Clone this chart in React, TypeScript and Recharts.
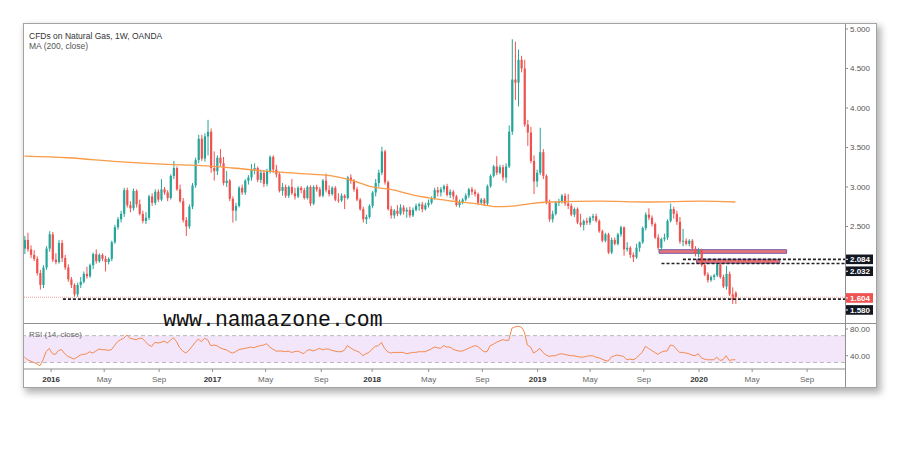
import React from 'react';
import { ComposedChart, Bar, Line, XAxis, YAxis, ReferenceLine, ReferenceArea } from 'recharts';

// weekly candles [open, high, low, close], first bar = week of 2 Nov 2015
const ohlc2015 = [
  [2.22, 2.38, 2.15, 2.33], [2.33, 2.42, 2.18, 2.21], [2.21, 2.26, 2.10, 2.14], [2.14, 2.20, 2.06, 2.09],
  [2.09, 2.12, 1.88, 1.91], [1.91, 1.95, 1.70, 1.76], [1.76, 2.01, 1.72, 1.98], [1.98, 2.25, 1.95, 2.22],
  [2.22, 2.44, 2.18, 2.40],
];

const ohlc2016 = [
  [2.40, 2.43, 2.05, 2.08], [2.08, 2.16, 2.02, 2.05], [2.05, 2.33, 2.03, 2.29], [2.29, 2.33, 2.05, 2.10],
  [2.10, 2.14, 1.95, 1.98], [1.98, 2.02, 1.80, 1.83], [1.83, 1.86, 1.72, 1.76], [1.76, 1.78, 1.61, 1.64],
  [1.64, 1.79, 1.61, 1.76], [1.76, 1.86, 1.72, 1.80], [1.80, 1.93, 1.78, 1.90], [1.90, 1.99, 1.84, 1.87],
  [1.87, 2.03, 1.85, 2.01], [2.01, 2.17, 1.96, 2.15], [2.15, 2.21, 2.03, 2.06], [2.06, 2.16, 2.04, 2.14],
  [2.14, 2.16, 2.06, 2.09], [2.09, 2.13, 1.93, 2.05], [2.05, 2.11, 2.02, 2.09], [2.09, 2.32, 2.06, 2.30],
  [2.30, 2.52, 2.28, 2.49], [2.49, 2.62, 2.46, 2.59], [2.59, 2.70, 2.55, 2.66], [2.66, 2.99, 2.62, 2.96],
  [2.96, 2.99, 2.74, 2.77], [2.77, 2.82, 2.68, 2.73], [2.73, 2.98, 2.70, 2.95], [2.95, 2.97, 2.74, 2.78],
  [2.78, 2.84, 2.64, 2.66], [2.66, 2.70, 2.54, 2.57], [2.57, 2.68, 2.53, 2.61], [2.61, 2.90, 2.58, 2.88],
  [2.88, 2.92, 2.76, 2.80], [2.80, 2.97, 2.77, 2.94], [2.94, 2.97, 2.81, 2.84], [2.84, 3.10, 2.82, 2.97],
  [2.97, 3.00, 2.90, 2.93], [2.93, 2.96, 2.82, 2.86], [2.86, 3.16, 2.84, 3.14], [3.14, 3.33, 3.10, 3.24],
  [3.24, 3.26, 2.95, 2.97], [2.97, 3.03, 2.80, 2.82], [2.82, 2.86, 2.55, 2.58], [2.58, 2.62, 2.38, 2.50],
  [2.50, 2.78, 2.47, 2.75], [2.75, 3.05, 2.72, 3.02], [3.02, 3.37, 2.99, 3.34], [3.34, 3.66, 3.30, 3.61],
  [3.61, 3.66, 3.33, 3.36], [3.36, 3.68, 3.32, 3.64], [3.64, 3.85, 3.40, 3.70], [3.70, 3.74, 3.18, 3.24],
];

const ohlc2017 = [
  [3.24, 3.45, 3.08, 3.20], [3.20, 3.40, 3.15, 3.37], [3.37, 3.48, 3.26, 3.30], [3.30, 3.38, 3.02, 3.05],
  [3.05, 3.20, 3.00, 3.08], [3.08, 3.10, 2.82, 2.85], [2.85, 2.88, 2.55, 2.70], [2.70, 2.80, 2.57, 2.76],
  [2.76, 3.01, 2.74, 2.99], [2.99, 3.03, 2.90, 2.93], [2.93, 3.10, 2.90, 3.08], [3.08, 3.15, 3.03, 3.12],
  [3.12, 3.29, 3.08, 3.22], [3.22, 3.30, 3.16, 3.24], [3.24, 3.26, 3.06, 3.09], [3.09, 3.22, 3.05, 3.18],
  [3.18, 3.21, 3.00, 3.04], [3.04, 3.23, 3.01, 3.20], [3.20, 3.40, 3.17, 3.38], [3.38, 3.40, 3.18, 3.22],
  [3.22, 3.28, 3.12, 3.16], [3.16, 3.19, 2.93, 2.95], [2.95, 3.05, 2.89, 3.00], [3.00, 3.03, 2.86, 2.89],
  [2.89, 3.02, 2.86, 3.00], [3.00, 3.10, 2.90, 2.92], [2.92, 2.99, 2.84, 2.88], [2.88, 3.01, 2.86, 2.99],
  [2.99, 3.01, 2.92, 2.96], [2.96, 2.99, 2.84, 2.86], [2.86, 3.02, 2.84, 3.00], [3.00, 3.02, 2.76, 2.79],
  [2.79, 3.02, 2.77, 3.00], [3.00, 3.03, 2.94, 2.97], [2.97, 3.00, 2.87, 2.89], [2.89, 3.10, 2.87, 3.08],
  [3.08, 3.17, 2.93, 2.96], [2.96, 3.02, 2.88, 2.91], [2.91, 3.01, 2.89, 2.99], [2.99, 3.01, 2.82, 2.84],
  [2.84, 2.92, 2.80, 2.83], [2.83, 2.92, 2.81, 2.89], [2.89, 2.91, 2.72, 2.86], [2.86, 3.14, 2.84, 3.12],
  [3.12, 3.16, 3.04, 3.08], [3.08, 3.10, 2.94, 2.97], [2.97, 3.00, 2.82, 2.84], [2.84, 2.86, 2.70, 2.72],
  [2.72, 2.75, 2.55, 2.59], [2.59, 2.65, 2.53, 2.62], [2.62, 2.78, 2.60, 2.76], [2.76, 2.95, 2.73, 2.93],
];

const ohlc2018 = [
  [2.93, 3.10, 2.88, 3.05], [3.05, 3.22, 3.00, 3.18], [3.18, 3.51, 3.15, 3.45], [3.45, 3.47, 3.03, 3.06],
  [3.06, 3.08, 2.70, 2.72], [2.72, 2.76, 2.60, 2.64], [2.64, 2.72, 2.60, 2.70], [2.70, 2.77, 2.63, 2.66],
  [2.66, 2.78, 2.64, 2.74], [2.74, 2.77, 2.65, 2.69], [2.69, 2.74, 2.61, 2.71], [2.71, 2.75, 2.61, 2.64],
  [2.64, 2.74, 2.62, 2.71], [2.71, 2.79, 2.69, 2.76], [2.76, 2.80, 2.70, 2.78], [2.78, 2.81, 2.68, 2.72],
  [2.72, 2.80, 2.70, 2.77], [2.77, 2.84, 2.74, 2.80], [2.80, 2.88, 2.78, 2.86], [2.86, 2.99, 2.84, 2.96],
  [2.96, 3.00, 2.88, 2.93], [2.93, 3.00, 2.88, 2.97], [2.97, 3.03, 2.93, 3.01], [3.01, 3.04, 2.88, 2.90],
  [2.90, 2.97, 2.86, 2.94], [2.94, 2.96, 2.84, 2.88], [2.88, 2.90, 2.75, 2.77], [2.77, 2.84, 2.74, 2.81],
  [2.81, 2.86, 2.78, 2.84], [2.84, 2.92, 2.82, 2.89], [2.89, 2.99, 2.86, 2.97], [2.97, 3.00, 2.90, 2.94],
  [2.94, 2.97, 2.88, 2.91], [2.91, 2.93, 2.77, 2.80], [2.80, 2.86, 2.77, 2.84], [2.84, 2.86, 2.76, 2.79],
  [2.79, 3.03, 2.77, 3.01], [3.01, 3.16, 2.99, 3.14], [3.14, 3.28, 3.12, 3.26], [3.26, 3.39, 3.15, 3.18],
  [3.18, 3.28, 3.16, 3.25], [3.25, 3.28, 3.08, 3.12], [3.12, 3.30, 3.05, 3.26], [3.26, 3.78, 3.24, 3.70],
  [3.70, 4.87, 3.66, 4.36], [4.36, 4.84, 4.10, 4.32], [4.32, 4.74, 4.02, 4.61], [4.61, 4.66, 4.45, 4.50],
  [4.50, 4.61, 3.76, 3.79], [3.79, 3.85, 3.52, 3.69], [3.69, 3.76, 3.30, 3.33], [3.33, 3.40, 2.91, 3.07],
];

const ohlc2019 = [
  [3.07, 3.22, 3.00, 3.18], [3.18, 3.75, 3.15, 3.44], [3.44, 3.48, 3.10, 3.14], [3.14, 3.16, 2.78, 2.80],
  [2.80, 2.84, 2.56, 2.59], [2.59, 2.70, 2.55, 2.66], [2.66, 2.82, 2.64, 2.80], [2.80, 2.85, 2.76, 2.82],
  [2.82, 2.91, 2.79, 2.89], [2.89, 2.92, 2.76, 2.79], [2.79, 2.91, 2.72, 2.76], [2.76, 2.79, 2.63, 2.65],
  [2.65, 2.74, 2.62, 2.72], [2.72, 2.74, 2.53, 2.55], [2.55, 2.66, 2.49, 2.52], [2.52, 2.59, 2.45, 2.57],
  [2.57, 2.61, 2.52, 2.55], [2.55, 2.63, 2.52, 2.61], [2.61, 2.66, 2.57, 2.63], [2.63, 2.66, 2.55, 2.57],
  [2.57, 2.59, 2.42, 2.44], [2.44, 2.46, 2.30, 2.32], [2.32, 2.42, 2.30, 2.40], [2.40, 2.42, 2.15, 2.17],
  [2.17, 2.36, 2.15, 2.33], [2.33, 2.36, 2.26, 2.28], [2.28, 2.42, 2.26, 2.40], [2.40, 2.51, 2.37, 2.49],
  [2.49, 2.50, 2.13, 2.21], [2.21, 2.30, 2.18, 2.23], [2.23, 2.25, 2.10, 2.14], [2.14, 2.17, 2.05, 2.11],
  [2.11, 2.28, 2.09, 2.23], [2.23, 2.31, 2.18, 2.30], [2.30, 2.50, 2.28, 2.48], [2.48, 2.68, 2.45, 2.65],
  [2.65, 2.73, 2.58, 2.61], [2.61, 2.64, 2.50, 2.53], [2.53, 2.55, 2.34, 2.36], [2.36, 2.40, 2.20, 2.23],
  [2.23, 2.36, 2.19, 2.34], [2.34, 2.41, 2.31, 2.36], [2.36, 2.59, 2.33, 2.57], [2.57, 2.79, 2.55, 2.72],
  [2.72, 2.75, 2.60, 2.66], [2.66, 2.70, 2.52, 2.56], [2.56, 2.62, 2.28, 2.31], [2.31, 2.47, 2.25, 2.32],
  [2.32, 2.35, 2.26, 2.28], [2.28, 2.34, 2.25, 2.32], [2.32, 2.34, 2.20, 2.22], [2.22, 2.25, 2.12, 2.15],
];

const ohlc2020 = [
  [2.15, 2.23, 2.11, 2.20], [2.20, 2.22, 1.99, 2.01], [2.01, 2.03, 1.87, 1.89], [1.89, 1.92, 1.79, 1.82],
  [1.82, 1.88, 1.80, 1.86], [1.86, 1.90, 1.82, 1.88], [1.88, 2.04, 1.86, 2.02], [2.02, 2.04, 1.84, 1.86],
  [1.86, 1.89, 1.72, 1.74], [1.74, 2.00, 1.70, 1.90], [1.90, 1.93, 1.62, 1.64], [1.64, 1.73, 1.52, 1.57],
  [1.66, 1.68, 1.52, 1.604],
];

// MA(200, close), read at a few weeks along the line
const maWeeks = [0, 14, 30, 46, 57, 67, 78, 89, 99, 105, 112, 118, 125, 136, 147, 152, 158, 163, 170, 185, 201, 218, 229];
const maValues = [3.39, 3.37, 3.32, 3.285, 3.27, 3.24, 3.2, 3.17, 3.14, 3.09, 3.0, 2.97, 2.9, 2.83, 2.78, 2.75, 2.76, 2.79, 2.81, 2.82, 2.81, 2.82, 2.81];

// RSI(14) per week
const rsi2015 = [38, 34, 32, 30, 28, 25, 34, 46, 51];
const rsi2016 = [43, 42, 48, 49, 43, 39, 37, 35, 38, 41, 42, 43, 46, 44, 47, 50, 49, 49, 48, 49, 55, 61, 64, 66, 71, 66,
  65, 64, 66, 66, 61, 56, 54, 60, 59, 60, 62, 59, 63, 67, 61, 52, 47, 44, 48, 54, 60, 65, 61, 66, 64, 55];
const rsi2017 = [56, 55, 52, 50, 49, 46, 44, 46, 49, 50, 51, 52, 53, 52, 54, 55, 56, 58, 53, 50, 47, 47, 47, 46, 47, 45,
  46, 47, 45, 43, 48, 49, 47, 49, 51, 49, 50, 50, 48, 47, 46, 46, 48, 55, 52, 49, 47, 45, 40, 43, 45, 50];
const rsi2018 = [54, 55, 60, 51, 46, 44, 45, 45, 45, 45, 43, 44, 45, 45, 46, 46, 46, 48, 50, 53, 52, 51, 55, 53, 53, 50,
  48, 47, 47, 49, 51, 53, 55, 54, 50, 46, 46, 55, 57, 60, 62, 64, 63, 63, 81, 83, 84, 83, 76, 56, 53, 44];
const rsi2019 = [47, 51, 45, 41, 39, 40, 40, 42, 43, 42, 41, 40, 40, 39, 38, 38, 39, 40, 40, 38, 37, 35, 33, 32, 38, 40,
  41, 40, 39, 34, 35, 34, 36, 41, 45, 54, 51, 48, 45, 42, 45, 47, 47, 56, 55, 50, 45, 45, 44, 43, 41, 40];
const rsi2020 = [43, 37, 35, 34, 34, 34, 38, 33, 34, 40, 33, 34, 34];

const priceTicks = [2.5, 3, 3.5, 4, 4.5, 5];
const rsiTicks = [40, 80];
const tickWeeks = [8.6, 25.7, 43.4, 60.6, 77.7, 95.6, 112, 130.2, 147.5, 165.3, 182.2, 199.5, 217.3, 234.4, 252.1];
const tickLabels = ['2016', 'May', 'Sep', '2017', 'May', 'Sep', '2018', 'May', 'Sep', '2019', 'May', 'Sep', '2020', 'May', 'Sep'];

const lastPrice = 1.604;
const levelPrices = [2.084, 2.032, 1.58];
const levelStartWeeks = [212.1, 205.2, 12.4];
// supply zones: [fromWeek, toWeek, low, high]
const zones = [
  [204.4, 245.5, 2.16, 2.206],
  [216.5, 243.3, 2.034, 2.085],
];

const UP = '#26a69a';
const DOWN = '#ef5350';
const X_MIN = -0.13;
const X_MAX = 264.3;

const candles = [...ohlc2015, ...ohlc2016, ...ohlc2017, ...ohlc2018, ...ohlc2019, ...ohlc2020].map(
  ([o, h, l, c], i) => ({ i, o, h, l, c, range: [l, h] })
);
const maData = maWeeks.map((w, k) => ({ i: w, ma: maValues[k] }));
const rsiData = [...rsi2015, ...rsi2016, ...rsi2017, ...rsi2018, ...rsi2019, ...rsi2020].map((v, i) => ({ i, rsi: v }));

const Candle = (props: any) => {
  const { x, y, width, height, payload } = props;
  if (!payload || x == null || y == null) return null;
  const { o, h, l, c } = payload;
  const top = Math.min(y, y + height);
  const span = Math.abs(height);
  const perUnit = h - l > 0 ? span / (h - l) : 0;
  const cx = x + width / 2;
  const bodyTop = top + (h - Math.max(o, c)) * perUnit;
  const bodyH = Math.max(1, Math.abs(o - c) * perUnit);
  const color = c >= o ? UP : DOWN;
  return (
    <g>
      <line x1={cx} x2={cx} y1={top} y2={top + span} stroke={color} strokeWidth={1} />
      <rect x={cx - 1.1} y={bodyTop} width={2.2} height={bodyH} fill={color} />
    </g>
  );
};

const PriceTag = (props: any) => {
  const { viewBox, text, bg, shift } = props;
  if (!viewBox) return null;
  const x = viewBox.x + viewBox.width;
  const y = viewBox.y + (viewBox.height || 0) / 2 + shift;
  return (
    <g>
      <rect x={x} y={y - 4.8} width={28} height={9.6} fill={bg} />
      <line x1={x} x2={x + 3} y1={y} y2={y} stroke="#fff" strokeWidth={1} />
      <text x={x + 5} y={y} dy="0.35em" fontSize={8} fontWeight={700} fill="#fff">{text}</text>
    </g>
  );
};

const TimeTick = (props: any) => {
  const { x, y, payload } = props;
  const label = tickLabels[tickWeeks.indexOf(payload.value)];
  const isYear = /^\d{4}$/.test(label || '');
  return (
    <text x={x} y={y} dy="0.71em" textAnchor="middle" fontSize={8}
      fill={isYear ? '#333' : '#666'} fontWeight={isYear ? 700 : 400}>{label}</text>
  );
};

const levelShift = [0, 7.8, 10.8];

const App: React.FC = () => {
  return (
    <div style={{ position: 'absolute', left: 0, top: 0, width: 900, height: 466, background: '#fff',
      fontFamily: "'Liberation Sans', Arial, sans-serif" }}>
      <div style={{ position: 'absolute', left: 23, top: 23, width: 852, height: 363, border: '1px solid #a3a3a3',
        background: '#fff', boxShadow: '3px 4px 7px 1px rgba(0,0,0,0.3)' }}>
        <ComposedChart width={852} height={299} data={candles} margin={{ top: 0, right: 0, bottom: 0, left: 0 }}>
          <XAxis dataKey="i" type="number" domain={[X_MIN, X_MAX]} allowDataOverflow hide />
          <YAxis orientation="right" width={31} domain={[1.278, 5.063]} allowDataOverflow ticks={priceTicks}
            interval={0} tickFormatter={(v: number) => v.toFixed(3)} tick={{ fontSize: 8, fill: '#555' }}
            tickSize={3} tickMargin={2} axisLine={false} tickLine={{ stroke: '#888' }} />
          <Line data={maData} dataKey="ma" type="monotone" stroke="#f99b47" strokeWidth={1.3} dot={false}
            isAnimationActive={false} />
          <Bar dataKey="range" barSize={2} shape={(p: any) => <Candle {...p} />} isAnimationActive={false} />
          {zones.map(([x1, x2, y1, y2], k) => (
            <ReferenceArea key={`z${k}`} x1={x1} x2={x2} y1={y1} y2={y2} fill="#e96464" fillOpacity={0.9}
              stroke="#6f5fb0" strokeWidth={1} />
          ))}
          <ReferenceLine y={lastPrice} stroke="#f3a0a0" strokeDasharray="1 1" strokeWidth={1}
            label={<PriceTag text={lastPrice.toFixed(3)} bg={DOWN} shift={0.7} />} />
          {levelPrices.map((p, k) => (
            <ReferenceLine key={`l${k}`} segment={[{ x: levelStartWeeks[k], y: p }, { x: X_MAX, y: p }]}
              stroke="#222" strokeWidth={1.6} strokeDasharray="3 2"
              label={<PriceTag text={p.toFixed(3)} bg="#131722" shift={levelShift[k]} />} />
          ))}
        </ComposedChart>
        <div style={{ position: 'absolute', left: 0, top: 299, width: 852, height: 1, background: '#8f8f8f' }} />
        <div style={{ position: 'absolute', left: 0, top: 300 }}>
          <ComposedChart width={852} height={63} data={rsiData} margin={{ top: 0, right: 0, bottom: 0, left: 0 }}>
            <XAxis dataKey="i" type="number" domain={[X_MIN, X_MAX]} allowDataOverflow ticks={tickWeeks}
              interval={0} height={18} tickSize={3} tickMargin={4} tick={<TimeTick />}
              axisLine={{ stroke: '#8f8f8f' }} tickLine={{ stroke: '#8f8f8f' }} />
            <YAxis orientation="right" width={31} domain={[20.2, 87.4]} allowDataOverflow ticks={rsiTicks}
              interval={0} tickFormatter={(v: number) => v.toFixed(2)} tick={{ fontSize: 8, fill: '#555' }}
              tickSize={3} tickMargin={2} axisLine={false} tickLine={{ stroke: '#888' }} />
            <ReferenceArea y1={30} y2={70} fill="#f3e6fb" fillOpacity={1} stroke="none" />
            <ReferenceLine y={70} stroke="#b8b8b8" strokeDasharray="4 3" />
            <ReferenceLine y={30} stroke="#b8b8b8" strokeDasharray="4 3" />
            <Line dataKey="rsi" type="linear" stroke="#f5894d" strokeWidth={1} dot={false}
              isAnimationActive={false} />
          </ComposedChart>
        </div>
        <div style={{ position: 'absolute', left: 821, top: 0, width: 1, height: 363, background: '#8f8f8f' }} />
        <div style={{ position: 'absolute', left: 5, top: 6.5, fontSize: 8.5, lineHeight: '10px', color: '#333',
          whiteSpace: 'nowrap' }}>CFDs on Natural Gas, 1W, OANDA</div>
        <div style={{ position: 'absolute', left: 5, top: 16.7, fontSize: 8.5, lineHeight: '10px', color: '#555',
          whiteSpace: 'nowrap' }}>MA (200, close)</div>
        <div style={{ position: 'absolute', left: 5, top: 305.5, fontSize: 8, lineHeight: '10px', color: '#666',
          whiteSpace: 'nowrap' }}>RSI (14, close)</div>
        <div style={{ position: 'absolute', left: 139.3, top: 286.2, fontFamily: "'Liberation Mono', monospace",
          fontSize: 21.5, lineHeight: '21.5px', color: '#111', whiteSpace: 'nowrap' }}>www.namaazone.com</div>
      </div>
    </div>
  );
};

export default App;
